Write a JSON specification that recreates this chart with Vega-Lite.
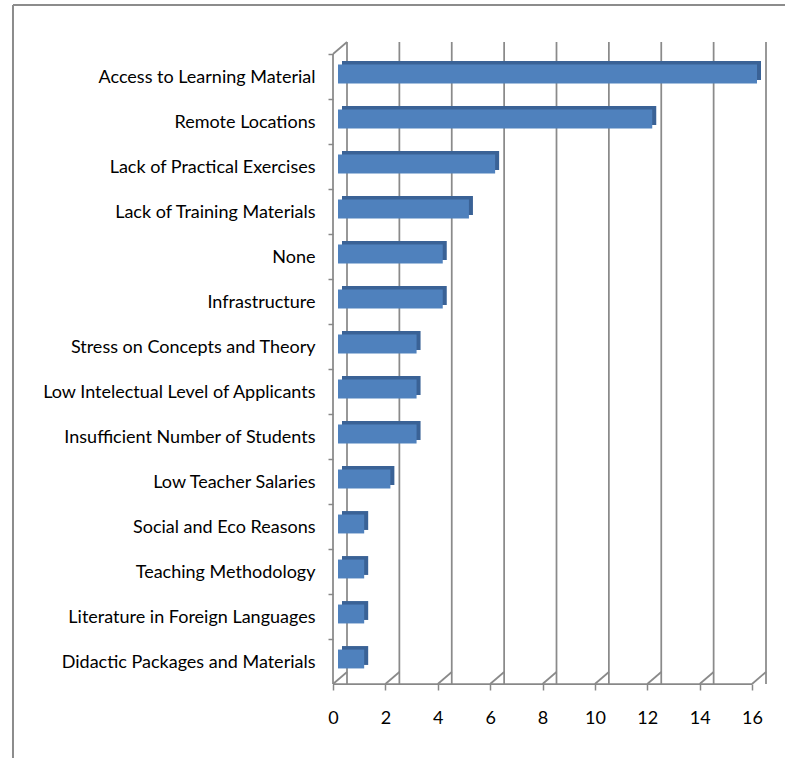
{
  "$schema": "https://vega.github.io/schema/vega-lite/v6.json",
  "width": 419,
  "height": 630,
  "autosize": {"type": "none"},
  "padding": {"left": 333, "top": 54, "right": 34, "bottom": 74},
  "background": "white",
  "config": {
    "view": {"stroke": null},
    "font": "Lato",
    "axisX": {
      "title": null, "grid": false, "tickSize": 6, "labelPadding": 19, "labelFontSize": 18,
      "labelColor": "#000000", "labelFont": "Lato", "domain": false, "labelFlush": false,
      "tickColor": "#888888", "tickWidth": 1.5
    },
    "axisY": {
      "title": null, "bandPosition": 0, "labelOffset": 1.5, "tickSize": 5, "grid": false,
      "labelPadding": 13, "labelFontSize": 18, "labelColor": "#000000", "labelLimit": 400,
      "domain": false, "tickColor": "#888888", "tickWidth": 1.5, "labelFont": "Lato"
    }
  },
  "datasets": {
    "bars": [
      {"category": "Access to Learning Material", "value": 16},
      {"category": "Remote Locations", "value": 12},
      {"category": "Lack of Practical Exercises", "value": 6},
      {"category": "Lack of Training Materials", "value": 5},
      {"category": "None", "value": 4},
      {"category": "Infrastructure", "value": 4},
      {"category": "Stress on Concepts and Theory", "value": 3},
      {"category": "Low Intelectual Level of Applicants", "value": 3},
      {"category": "Insufficient Number of Students", "value": 3},
      {"category": "Low Teacher Salaries", "value": 2},
      {"category": "Social and Eco Reasons", "value": 1},
      {"category": "Teaching Methodology", "value": 1},
      {"category": "Literature in Foreign Languages", "value": 1},
      {"category": "Didactic Packages and Materials", "value": 1}
    ],
    "ticks": [{"v": 0}, {"v": 2}, {"v": 4}, {"v": 6}, {"v": 8}, {"v": 10}, {"v": 12}, {"v": 14}, {"v": 16}],
    "one": [{"k": 1}]
  },
  "layer": [
    {
      "data": {"name": "ticks"},
      "mark": {"type": "rule", "xOffset": 14, "yOffset": -12, "color": "#8a8a8a", "strokeWidth": 1.75},
      "encoding": {
        "x": {"field": "v", "type": "quantitative", "scale": {"domain": [0, 16]}, "axis": {"title": null, "values": [0, 2, 4, 6, 8, 10, 12, 14, 16]}}
      }
    },
    {
      "data": {"name": "ticks"},
      "mark": {"type": "rule", "x2Offset": 14, "y2Offset": -12, "color": "#8a8a8a", "strokeWidth": 1.75},
      "encoding": {
        "x": {"field": "v", "type": "quantitative", "axis": {"title": null, "values": [0, 2, 4, 6, 8, 10, 12, 14, 16]}},
        "x2": {"field": "v"},
        "y": {"datum": 0, "type": "quantitative", "scale": {"domain": [0, 1]}, "axis": null},
        "y2": {"datum": 0}
      }
    },
    {
      "data": {"name": "one"},
      "mark": {"type": "rule", "x2Offset": 14, "y2Offset": -12, "color": "#8a8a8a", "strokeWidth": 1.75},
      "encoding": {
        "x": {"datum": 0, "type": "quantitative", "axis": {"title": null, "values": [0, 2, 4, 6, 8, 10, 12, 14, 16]}},
        "x2": {"datum": 0},
        "y": {"datum": 1, "type": "quantitative", "scale": {"domain": [0, 1]}, "axis": null},
        "y2": {"datum": 1}
      }
    },
    {
      "data": {"name": "one"},
      "mark": {"type": "rule", "color": "#888888", "strokeWidth": 1.75},
      "encoding": {
        "x": {"datum": 0, "type": "quantitative", "axis": {"title": null, "values": [0, 2, 4, 6, 8, 10, 12, 14, 16]}},
        "x2": {"datum": 0},
        "y": {"datum": 0, "type": "quantitative", "scale": {"domain": [0, 1]}, "axis": null},
        "y2": {"datum": 1}
      }
    },
    {
      "data": {"name": "one"},
      "mark": {"type": "rule", "color": "#888888", "strokeWidth": 1.75},
      "encoding": {
        "x": {"datum": 0, "type": "quantitative", "axis": {"title": null, "values": [0, 2, 4, 6, 8, 10, 12, 14, 16]}},
        "x2": {"datum": 16},
        "y": {"datum": 0, "type": "quantitative", "scale": {"domain": [0, 1]}, "axis": null},
        "y2": {"datum": 0}
      }
    },
    {
      "data": {"name": "one"},
      "mark": {"type": "rule", "color": "#8c8c8c", "strokeWidth": 2},
      "encoding": {
        "x": {"datum": -12.22, "type": "quantitative", "axis": {"title": null, "values": [0, 2, 4, 6, 8, 10, 12, 14, 16]}},
        "x2": {"datum": 17.26},
        "y": {"datum": 1.0778, "type": "quantitative", "scale": {"domain": [0, 1]}, "axis": null},
        "y2": {"datum": 1.0778}
      }
    },
    {
      "data": {"name": "one"},
      "mark": {"type": "rule", "color": "#8c8c8c", "strokeWidth": 2},
      "encoding": {
        "x": {"datum": -12.22, "type": "quantitative", "axis": {"title": null, "values": [0, 2, 4, 6, 8, 10, 12, 14, 16]}},
        "x2": {"datum": -12.22},
        "y": {"datum": 1.0778, "type": "quantitative", "scale": {"domain": [0, 1]}, "axis": null},
        "y2": {"datum": -0.2}
      }
    },
    {
      "data": {"name": "bars"},
      "mark": {"type": "bar", "xOffset": 9, "yOffset": -6, "color": "#3a6296", "height": {"band": 0.42}},
      "encoding": {
        "y": {"field": "category", "type": "nominal", "sort": null, "scale": {"paddingInner": 0, "paddingOuter": 0}, "axis": null},
        "x": {"field": "value", "type": "quantitative", "axis": {"title": null, "values": [0, 2, 4, 6, 8, 10, 12, 14, 16]}}
      }
    },
    {
      "data": {"name": "bars"},
      "mark": {"type": "bar", "xOffset": 5, "yOffset": -2.5, "color": "#4f81bd", "height": {"band": 0.42}},
      "encoding": {
        "y": {
          "field": "category", "type": "nominal", "sort": null,
          "scale": {"paddingInner": 0, "paddingOuter": 0},
          "axis": {"title": null}
        },
        "x": {"field": "value", "type": "quantitative", "axis": {"title": null, "values": [0, 2, 4, 6, 8, 10, 12, 14, 16]}}
      }
    }
  ],
  "resolve": {"scale": {"y": "independent"}}
}
